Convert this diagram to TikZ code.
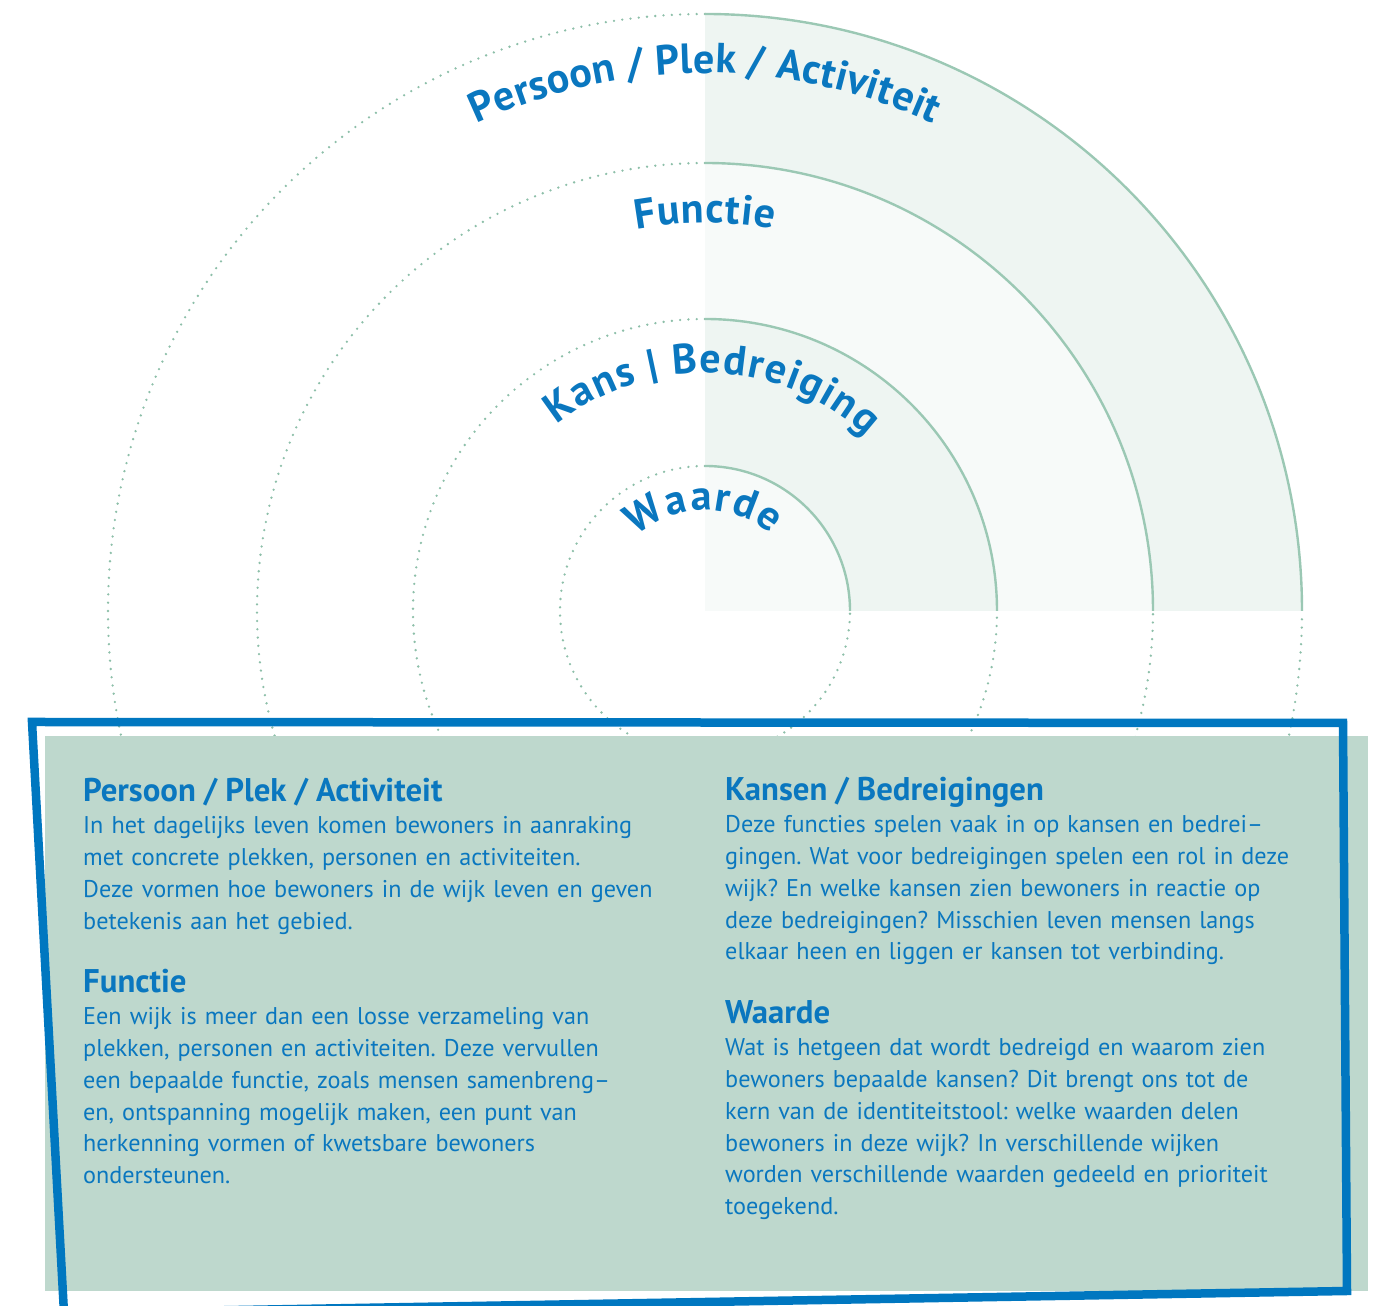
\documentclass[tikz,border=0pt]{standalone}
\usepackage{fontspec}
\setmainfont{PT Sans}
\definecolor{tblue}{HTML}{0A77BF}
\definecolor{bblue}{HTML}{0077C0}
\definecolor{boxgreen}{HTML}{BED8CD}
\definecolor{arcgreen}{HTML}{9BC8B4}
\definecolor{dotgreen}{HTML}{8DBFA9}
\definecolor{ringA}{HTML}{EEF5F2}
\definecolor{ringB}{HTML}{F7FAF9}
\newcommand\AF{\fontsize{42}{48}\selectfont\bfseries}
\newcommand\HF{\fontsize{32.8}{31.8}\selectfont\bfseries}
\newdimen\arcW
\newdimen\arcS
\newdimen\arcT
\makeatletter
% #1 id, #2 radius, #3 tracking, #4 char list, #5 centre angle
\newcommand\arcprep[5]{%
  \global\arcW=0pt
  \foreach \ch in #4{%
    \setbox0=\hbox{\AF\ch}%
    \global\advance\arcW by \wd0 \global\advance\arcW by #3pt\relax
  }%
  \global\advance\arcW by -#3pt\relax
  \global\arcS=-0.5\arcW
  \foreach \ch [count=\k] in #4{%
    \setbox0=\hbox{\AF\ch}%
    \arcT=\arcS \advance\arcT by 0.5\wd0 \relax
    \edef\tmp{\strip@pt\arcT}%
    \pgfmathsetmacro\ang{#5-\tmp/#2*57.29578}%
    \expandafter\xdef\csname arcang@#1@\k\endcsname{\ang}%
    \global\advance\arcS by \wd0 \global\advance\arcS by #3pt\relax
  }%
}
\newcommand\arcdraw[3]{%
  \foreach \ch [count=\k] in #3{%
    \edef\ang{\csname arcang@#1@\k\endcsname}%
    \node[arcchar, rotate=\ang-90] (#1-\k) at (\ang:#2) {\AF\ch};
  }%
}
\makeatother
\def\PPA{P,e,r,s,o,o,n,\ ,/,\ ,P,l,e,k,\ ,/,\ ,A,c,t,i,v,i,t,e,i,t}
\def\FUN{F,u,n,c,t,i,e}
\def\KB{K,a,n,s,\ ,|,\ ,B,e,d,r,e,i,g,i,n,g}
\def\WA{W,a,a,r,d,e}
\AtBeginDocument{%
  \arcprep{ppa}{538}{0.3}{\PPA}{90}%
  \arcprep{fun}{388}{1}{\FUN}{90}%
  \arcprep{kb}{238}{1.5}{\KB}{88}%
  \arcprep{wa}{101}{2}{\WA}{91}%
}
\tikzset{
  arcchar/.style={anchor=base, inner sep=0pt, text=tblue},
  solidarc/.style={draw=arcgreen, line width=2.4pt},
  dotarc/.style={draw=dotgreen, line width=2.6pt, line cap=round, dash pattern=on 0pt off 8.3pt},
  body/.style={anchor=base west, inner sep=0pt, text=tblue, align=left, text width=640pt,
    font=\fontsize{24.2}{31.8}\selectfont\frenchspacing},
}
\begin{document}
\begin{tikzpicture}[x=1pt,y=1pt]
\useasboundingbox (0,0) rectangle (1382,1306);
\coordinate (C) at (705,695);
\begin{scope}[shift={(C)}]
  \foreach \r in {145,292,448,597}{
    \draw[dotarc] (0,\r) arc[start angle=90, end angle=360, radius=\r];
  }
  \fill[ringA] (0,0) -- (597,0) arc[start angle=0, end angle=90, radius=597] -- cycle;
  \fill[ringB] (0,0) -- (448,0) arc[start angle=0, end angle=90, radius=448] -- cycle;
  \fill[ringA] (0,0) -- (292,0) arc[start angle=0, end angle=90, radius=292] -- cycle;
  \fill[ringB] (0,0) -- (145,0) arc[start angle=0, end angle=90, radius=145] -- cycle;
  \foreach \r in {145,292,448,597}{
    \draw[solidarc] (\r,0) arc[start angle=0, end angle=90, radius=\r];
  }
  \arcdraw{ppa}{538}{\PPA}
  \arcdraw{fun}{388}{\FUN}
  \arcdraw{kb}{238}{\KB}
  \arcdraw{wa}{101}{\WA}
\end{scope}
% text box
\fill[boxgreen] (45,15) rectangle (1368,570);
\draw[bblue, line width=8.5pt, line join=miter] (32,584) -- (1343,583) -- (1347,15) -- (64,-7) -- cycle;
\node[body] (t1) at (83,504) {{\HF Persoon / Plek / Activiteit}\\
In het dagelijks leven komen bewoners in aanraking\\
met concrete plekken, personen en activiteiten.\\
Deze vormen hoe bewoners in de wijk leven en geven\\
betekenis aan het gebied.};
\node[body] (t2) at (83,313) {{\HF Functie}\\
Een wijk is meer dan een losse verzameling van\\
plekken, personen en activiteiten. Deze vervullen\\
een bepaalde functie, zoals mensen samenbreng–\\
en, ontspanning mogelijk maken, een punt van\\
herkenning vormen of kwetsbare bewoners\\
ondersteunen.};
\node[body] (t3) at (725,505) {{\HF Kansen / Bedreigingen}\\
Deze functies spelen vaak in op kansen en bedrei–\\
gingen. Wat voor bedreigingen spelen een rol in deze\\
wijk? En welke kansen zien bewoners in reactie op\\
deze bedreigingen? Misschien leven mensen langs\\
elkaar heen en liggen er kansen tot verbinding.};
\node[body] (t4) at (725,282) {{\HF Waarde}\\
Wat is hetgeen dat wordt bedreigd en waarom zien\\
bewoners bepaalde kansen? Dit brengt ons tot de\\
kern van de identiteitstool: welke waarden delen\\
bewoners in deze wijk? In verschillende wijken\\
worden verschillende waarden gedeeld en prioriteit\\
toegekend.};
\end{tikzpicture}
\end{document}
